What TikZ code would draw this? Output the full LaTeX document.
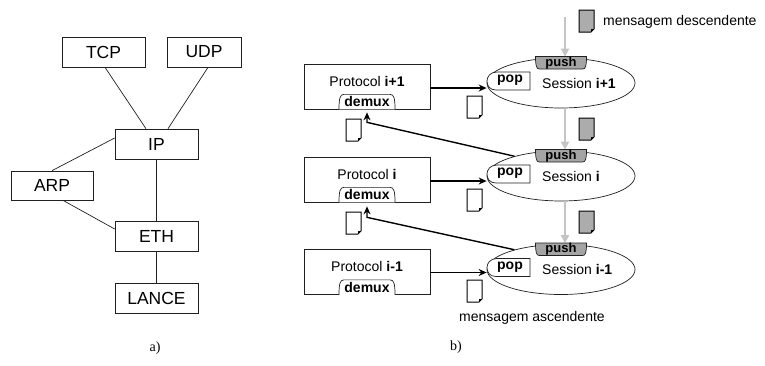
\documentclass[tikz,border=0pt]{standalone}
\usepackage{fontspec}
\setmainfont{Liberation Sans}
\newfontfamily\serifed{Liberation Serif}
\usetikzlibrary{shapes.geometric,arrows.meta,calc}
\definecolor{arrowgrey}{HTML}{C4C4C4}
\definecolor{tabgrey}{HTML}{A4A4A4}
\definecolor{docgrey}{HTML}{ACACAC}
\definecolor{linec}{HTML}{202020}

\newcommand\mydoc[3]{%
  \draw[doc,fill=#3] (#1,#2) -- ++(15,0) -- ++(0,19) -- ++(-3,3) -- ++(-12,0) -- cycle;
  \draw[line width=0.8pt] (#1+12,#2+22) -- (#1+12,#2+19) -- (#1+15,#2+19);}

\newcommand\demuxtab[1]{%
  \begin{scope}[shift={(#1.south)}]
    \draw[conn,fill=white] (-28,0) .. controls (-28,-11) and (-27,-15) .. (-23,-15) -- (23,-15) .. controls (27,-15) and (28,-11) .. (28,0);
    \node[lbl,font=\fontsize{14}{16}\bfseries] (#1dm) at (0,-7.5) {demux};
  \end{scope}}

\newcommand\sesstabs[2]{%
  \begin{scope}[shift={(#1.center)}]
    \draw[conn,fill=tabgrey] (-25.5,-26.5) .. controls (-25.5,-16.5) and (-24.5,-14) .. (-21.5,-14) -- (21.5,-14) .. controls (24.5,-14) and (25.5,-16.5) .. (25.5,-26.5) -- cycle;
    \node[lbl,font=\fontsize{13}{15}\bfseries] (#1push) at (0,-20) {push};
    \draw[conn,fill=white] (-31,-11) -- (-64,-11) .. controls (-71,-11) and (-74,-6) .. (-74,-2) .. controls (-74,3) and (-71,7) .. (-65,7) -- (-31,7) -- cycle;
    \node[lbl,font=\fontsize{14}{16}\bfseries] (#1pop) at (-51,-2.5) {pop};
    \node[lbl,anchor=west] (#1txt) at (-19,0) {#2};
  \end{scope}}

\begin{document}
\begin{tikzpicture}[x=1pt,y=-1pt,
  lbox/.style={draw=linec, line width=0.7pt, minimum width=83pt, minimum height=30pt, inner sep=0pt, font=\fontsize{17.5}{20}\selectfont},
  pbox/.style={draw=linec, line width=0.7pt, minimum width=126pt, minimum height=45pt, inner sep=0pt},
  lbl/.style={font=\fontsize{14}{16}\selectfont, inner sep=0pt},
  sess/.style={draw=linec, ellipse, line width=0.7pt, minimum width=148pt, minimum height=50pt, inner sep=0pt},
  conn/.style={draw=linec, line width=0.7pt},
  blk/.style={line width=1.4pt, -{Stealth[length=8pt,width=7pt]}},
  gry/.style={draw=arrowgrey, line width=2.6pt, -{Triangle[length=8pt,width=8pt,fill=arrowgrey]}},
  doc/.style={line width=1pt},
]
\useasboundingbox (0,0) rectangle (765,365);

% ---------- a) ----------
\node[lbox] (tcp) at (103.5,52) {TCP};
\node[lbox, minimum width=74pt] (udp) at (204,52) {UDP};
\node[lbox] (ip) at (156.5,144) {IP};
\node[lbox, minimum width=82pt, minimum height=29pt] (arp) at (52,185.5) {ARP};
\node[lbox] (eth) at (156.5,236) {ETH};
\node[lbox] (lance) at (156.5,298) {LANCE};
\draw[conn] ([xshift=1.5pt]tcp.south) -- ([xshift=-10.5pt]ip.north);
\draw[conn] ([xshift=4pt]udp.south) -- ([xshift=11.5pt]ip.north);
\draw[conn] ([yshift=6pt]ip.west) -- (arp.north);
\draw[conn] ([xshift=11pt]arp.south) -- ([yshift=7pt]eth.west);
\draw[conn] (ip.south) -- (eth.north);
\draw[conn] (eth.south) -- (lance.north);
\node[font=\serifed\fontsize{14}{16}\selectfont, inner sep=0pt] (la) at (155,348) {a)};

% ---------- b) ----------
\node[pbox] (p2) at (367,86.5) {};
\node[pbox] (p1) at (367,179.5) {};
\node[pbox] (p0) at (367,272) {};
\node[lbl] (p2t) at ([yshift=5.5pt]p2.center) {Protocol \textbf{i+1}};
\node[lbl] (p1t) at ([yshift=5.5pt]p1.center) {Protocol \textbf{i}};
\node[lbl] (p0t) at ([yshift=5.5pt]p0.center) {Protocol \textbf{i-1}};
\demuxtab{p2}
\demuxtab{p1}
\demuxtab{p0}

\node[sess] (s2) at (561,83) {};
\node[sess] (s1) at (561,176) {};
\node[sess] (s0) at (561,269.5) {};

% grey downward arrows
\coordinate (gtop) at (565,17);
\draw[gry] (gtop) -- ([xshift=4pt,yshift=1pt]s2.north);
\draw[gry] ([xshift=4pt]s2.south) -- ([xshift=4pt,yshift=1pt]s1.north);
\draw[gry] ([xshift=4pt]s1.south) -- ([xshift=4pt,yshift=1pt]s0.north);

\sesstabs{s2}{Session \textbf{i+1}}
\sesstabs{s1}{Session \textbf{i}}
\sesstabs{s0}{Session \textbf{i-1}}

% black arrows protocol -> pop
\draw[blk] ([yshift=-1.5pt]p2.east) -- ([yshift=-1.5pt]p2.east -| s2.west);
\draw[blk] ([yshift=-1.5pt]p1.east) -- ([yshift=-1.5pt]p1.east -| s1.west);
\draw[blk] ([yshift=-0.5pt]p0.east) -- ([yshift=-0.5pt]p0.east -| s0.west);

% upward arrows session -> demux
\draw[blk] (s1.157) -- ([yshift=-13pt]p2.south) -- ([yshift=-3pt]p2.south);
\draw[blk] (s0.157) -- ([yshift=-15pt]p1.south) -- ([yshift=-4pt]p1.south);

% documents
\mydoc{579}{10}{docgrey}
\mydoc{579}{118}{docgrey}
\mydoc{579}{211}{docgrey}
\mydoc{467}{96}{white}
\mydoc{467}{189}{white}
\mydoc{467}{280}{white}
\mydoc{346}{119}{white}
\mydoc{346}{212}{white}

\node[lbl, anchor=west] (md) at (603,22) {mensagem descendente};
\node[lbl] (ma) at (532,318) {mensagem ascendente};
\node[font=\serifed\fontsize{14}{16}\selectfont, inner sep=0pt] (lb) at (456,347) {b)};
\end{tikzpicture}
\end{document}
